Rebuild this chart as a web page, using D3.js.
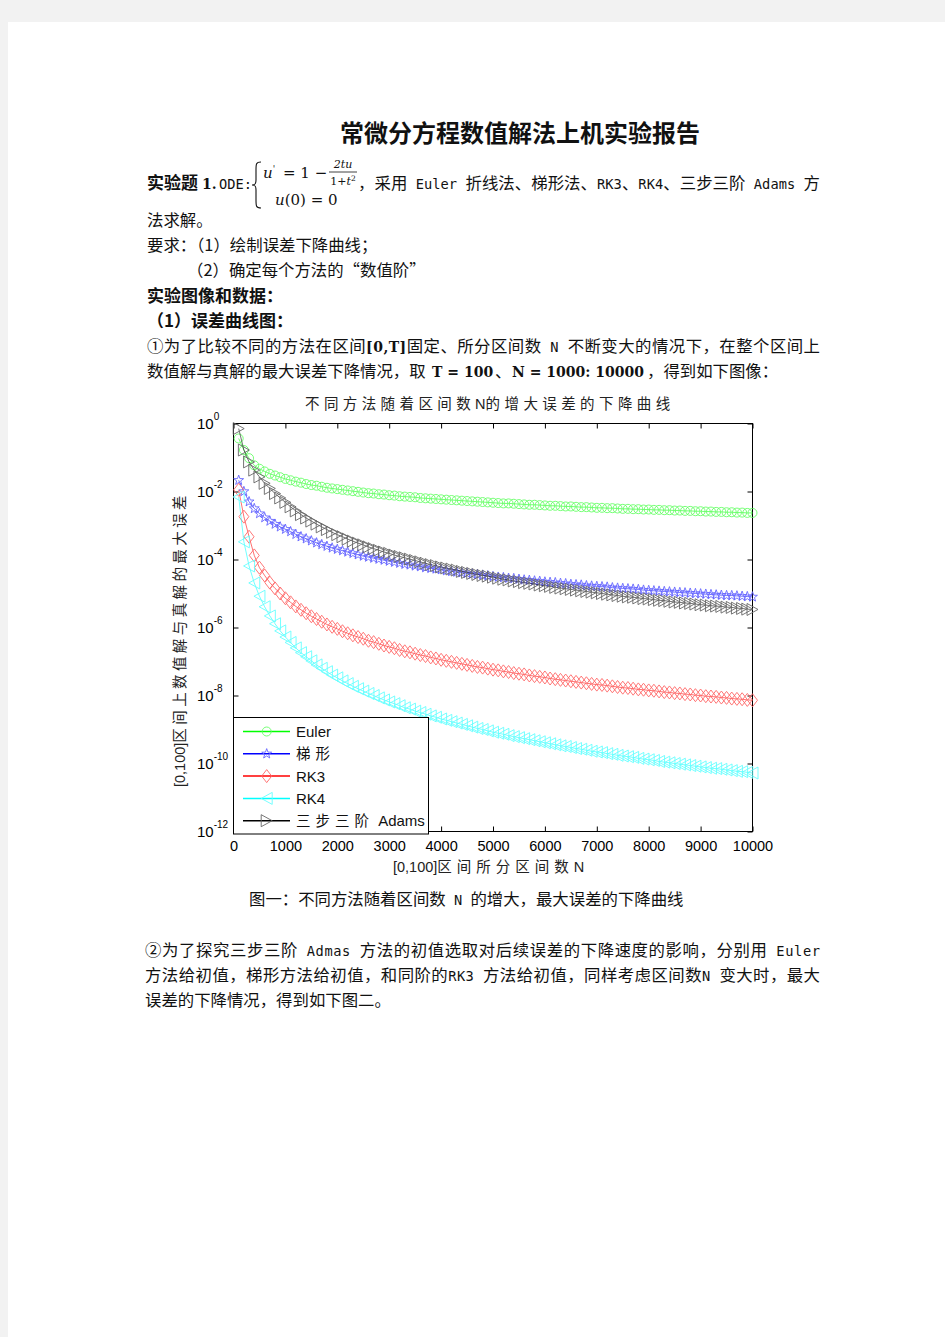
<!DOCTYPE html>
<html>
<head>
<meta charset="utf-8">
<script src="https://cdn.jsdelivr.net/npm/d3@7"></script>
<style>
  html, body { margin: 0; padding: 0; background: #f2f2f2; }
  svg { display: block; }
  text { white-space: pre; }
</style>
</head>
<body>
<svg id="page" width="945" height="1337"></svg>
<script>
// ---- data (log10 of the max error on [0,100]) ----
const N_VALUES = [100,200,300,400,500,600,700,800,900,1000,
  1100,1200,1300,1400,1500,1600,1700,1800,1900,2000,
  2100,2200,2300,2400,2500,2600,2700,2800,2900,3000,
  3100,3200,3300,3400,3500,3600,3700,3800,3900,4000,
  4100,4200,4300,4400,4500,4600,4700,4800,4900,5000,
  5100,5200,5300,5400,5500,5600,5700,5800,5900,6000,
  6100,6200,6300,6400,6500,6600,6700,6800,6900,7000,
  7100,7200,7300,7400,7500,7600,7700,7800,7900,8000,
  8100,8200,8300,8400,8500,8600,8700,8800,8900,9000,
  9100,9200,9300,9400,9500,9600,9700,9800,9900,10000];

const EULER_LOG = [-0.44,-0.78,-1.02,-1.23,-1.33,-1.41,-1.48,-1.53,-1.58,-1.63,
  -1.67,-1.71,-1.74,-1.78,-1.81,-1.83,-1.86,-1.89,-1.91,-1.93,
  -1.95,-1.97,-1.99,-2.01,-2.03,-2.05,-2.06,-2.08,-2.09,-2.11,
  -2.12,-2.14,-2.15,-2.16,-2.17,-2.19,-2.20,-2.21,-2.22,-2.23,
  -2.24,-2.25,-2.26,-2.27,-2.28,-2.29,-2.30,-2.31,-2.32,-2.33,
  -2.34,-2.35,-2.35,-2.36,-2.37,-2.38,-2.39,-2.39,-2.40,-2.41,
  -2.42,-2.42,-2.43,-2.44,-2.44,-2.45,-2.46,-2.46,-2.47,-2.48,
  -2.48,-2.49,-2.49,-2.50,-2.51,-2.51,-2.52,-2.52,-2.53,-2.53,
  -2.54,-2.54,-2.55,-2.55,-2.56,-2.56,-2.57,-2.57,-2.58,-2.58,
  -2.59,-2.59,-2.60,-2.60,-2.61,-2.61,-2.62,-2.62,-2.63,-2.63];

const TRAP_LOG = [-1.67,-2.00,-2.30,-2.50,-2.65,-2.77,-2.87,-2.96,-3.04,-3.11,
  -3.18,-3.26,-3.33,-3.39,-3.45,-3.51,-3.56,-3.61,-3.66,-3.70,
  -3.74,-3.78,-3.82,-3.86,-3.90,-3.93,-3.96,-3.99,-4.02,-4.05,
  -4.08,-4.11,-4.14,-4.16,-4.19,-4.21,-4.24,-4.26,-4.28,-4.30,
  -4.33,-4.35,-4.37,-4.39,-4.41,-4.43,-4.44,-4.46,-4.48,-4.50,
  -4.52,-4.53,-4.55,-4.56,-4.58,-4.60,-4.61,-4.63,-4.64,-4.66,
  -4.67,-4.68,-4.70,-4.71,-4.73,-4.74,-4.75,-4.77,-4.78,-4.79,
  -4.80,-4.81,-4.83,-4.84,-4.85,-4.86,-4.87,-4.88,-4.90,-4.91,
  -4.92,-4.93,-4.94,-4.95,-4.96,-4.97,-4.98,-4.99,-5.00,-5.01,
  -5.02,-5.03,-5.04,-5.05,-5.06,-5.06,-5.07,-5.08,-5.09,-5.10];

const RK3_LOG = [-1.95,-2.74,-3.33,-3.88,-4.24,-4.47,-4.68,-4.85,-5.00,-5.14,
  -5.26,-5.38,-5.48,-5.58,-5.67,-5.75,-5.83,-5.91,-5.98,-6.04,
  -6.11,-6.17,-6.23,-6.28,-6.33,-6.39,-6.43,-6.48,-6.53,-6.57,
  -6.61,-6.66,-6.70,-6.73,-6.77,-6.81,-6.84,-6.88,-6.91,-6.95,
  -6.98,-7.01,-7.04,-7.07,-7.10,-7.13,-7.16,-7.18,-7.21,-7.24,
  -7.26,-7.29,-7.31,-7.34,-7.36,-7.38,-7.41,-7.43,-7.45,-7.47,
  -7.50,-7.52,-7.54,-7.56,-7.58,-7.60,-7.62,-7.64,-7.66,-7.68,
  -7.69,-7.71,-7.73,-7.75,-7.77,-7.78,-7.80,-7.82,-7.83,-7.85,
  -7.86,-7.88,-7.90,-7.91,-7.93,-7.94,-7.96,-7.97,-7.99,-8.00,
  -8.02,-8.03,-8.04,-8.06,-8.07,-8.09,-8.10,-8.11,-8.13,-8.14];

const RK4_LOG = [-2.16,-3.48,-4.19,-4.69,-5.08,-5.39,-5.66,-5.89,-6.10,-6.28,
  -6.44,-6.60,-6.74,-6.86,-6.98,-7.10,-7.20,-7.30,-7.40,-7.48,
  -7.57,-7.65,-7.73,-7.80,-7.87,-7.94,-8.00,-8.07,-8.13,-8.19,
  -8.24,-8.30,-8.36,-8.40,-8.46,-8.50,-8.55,-8.60,-8.64,-8.69,
  -8.73,-8.77,-8.81,-8.85,-8.89,-8.93,-8.97,-9.00,-9.04,-9.08,
  -9.11,-9.14,-9.18,-9.21,-9.24,-9.27,-9.30,-9.33,-9.36,-9.39,
  -9.42,-9.45,-9.48,-9.50,-9.53,-9.56,-9.58,-9.61,-9.64,-9.66,
  -9.68,-9.71,-9.73,-9.76,-9.78,-9.80,-9.82,-9.85,-9.87,-9.89,
  -9.91,-9.94,-9.96,-9.98,-10.00,-10.02,-10.04,-10.06,-10.08,-10.10,
  -10.12,-10.14,-10.15,-10.17,-10.19,-10.21,-10.23,-10.24,-10.26,-10.28];

const ADAMS_LOG = [-0.15,-0.78,-1.13,-1.37,-1.57,-1.76,-1.91,-2.06,-2.19,-2.32,
  -2.45,-2.57,-2.68,-2.78,-2.87,-2.96,-3.04,-3.12,-3.20,-3.27,
  -3.33,-3.40,-3.46,-3.52,-3.57,-3.63,-3.68,-3.73,-3.78,-3.82,
  -3.87,-3.91,-3.95,-3.99,-4.03,-4.07,-4.11,-4.15,-4.18,-4.22,
  -4.25,-4.28,-4.31,-4.35,-4.38,-4.41,-4.44,-4.47,-4.49,-4.52,
  -4.55,-4.58,-4.60,-4.63,-4.65,-4.68,-4.70,-4.72,-4.75,-4.77,
  -4.79,-4.82,-4.84,-4.86,-4.88,-4.90,-4.92,-4.94,-4.96,-4.98,
  -5.00,-5.02,-5.04,-5.06,-5.08,-5.10,-5.11,-5.13,-5.15,-5.16,
  -5.18,-5.20,-5.21,-5.23,-5.25,-5.26,-5.28,-5.29,-5.31,-5.33,
  -5.34,-5.36,-5.37,-5.38,-5.40,-5.41,-5.43,-5.44,-5.46,-5.47];

const SERIES_NAMES = ['Euler', '梯形', 'RK3', 'RK4', '三步三阶 Adams'];
const X_TICKS = [0, 1000, 2000, 3000, 4000, 5000, 6000, 7000, 8000, 9000, 10000];
const Y_EXPONENTS = [0, -2, -4, -6, -8, -10, -12];

// styles (not data)
const COLORS = ['#00ff00', '#0000ff', '#ff0000', '#00ffff', '#000000'];
const MARKERS = ['circle', 'star', 'diamond', 'triLeft', 'triRight'];
const FONT = {
  cjk: "'Noto Sans CJK SC', sans-serif",
  mono: "'DejaVu Sans Mono', 'Liberation Mono', monospace",
  math: "'DejaVu Serif', 'Liberation Serif', serif",
  arial: "'Liberation Sans', Arial, sans-serif"
};
const SIZE = { cjk: 16.4, mono: 13.7, math: 14 };

const page = d3.select('#page');
page.append('rect').attr('x', 8).attr('y', 22).attr('width', 937).attr('height', 1315).attr('fill', '#fff');

// one line of body text, made of pieces in different fonts
function textLine(x, y, parts, len) {
  const t = page.append('text').attr('x', x).attr('y', y).attr('fill', '#111');
  if (len) t.attr('textLength', len).attr('lengthAdjust', 'spacing');
  parts.forEach(p => {
    const f = p.f || 'cjk';
    const s = t.append('tspan')
      .attr('font-family', FONT[f])
      .attr('font-size', p.s || SIZE[f])
      .text(p.t);
    if (p.b) s.attr('font-weight', 'bold');
    if (p.i) s.attr('font-style', 'italic');
    if (p.x != null) s.attr('x', p.x);
    if (p.dy != null) s.attr('dy', p.dy);
  });
  return t;
}

// ---- document text ----
textLine(520, 142, [{ t: '常微分方程数值解法上机实验报告', b: true, s: 24 }]).attr('text-anchor', 'middle');

textLine(147, 188.5, [
  { t: '实验题', b: true, s: 17 },
  { t: '1.', f: 'math', b: true, x: 202 },
  { t: 'ODE:', f: 'mono', x: 219 }
]);
// brace of the ODE system
page.append('path')
  .attr('d', 'M261,162 C256,162 256,164 256,170 L256,180 C256,184 255,185 252,185 C255,185 256,186 256,190 L256,200 C256,206 256,208 261,208')
  .attr('fill', 'none').attr('stroke', '#111').attr('stroke-width', 1.1);
textLine(263, 178, [
  { t: 'u', f: 'math', i: true, s: 15 },
  { t: '\'', f: 'math', s: 9, dy: -6 }
]);
textLine(283, 178, [{ t: '= 1 −', f: 'math', s: 15 }]);
textLine(343, 167.5, [{ t: '2tu', f: 'math', i: true, s: 11 }]).attr('text-anchor', 'middle');
page.append('line').attr('x1', 329).attr('x2', 357).attr('y1', 172).attr('y2', 172)
  .attr('stroke', '#111').attr('stroke-width', 0.8);
textLine(343, 185, [
  { t: '1+', f: 'math', s: 11 },
  { t: 't', f: 'math', i: true, s: 11 },
  { t: '2', f: 'math', s: 7.5, dy: -4 }
]).attr('text-anchor', 'middle');
textLine(275, 205, [
  { t: 'u', f: 'math', i: true, s: 15 },
  { t: '(0) = 0', f: 'math', s: 15 }
]);
textLine(358, 188.5, [
  { t: '，采用' },
  { t: ' Euler ', f: 'mono' },
  { t: '折线法、梯形法、' },
  { t: 'RK3', f: 'mono' },
  { t: '、' },
  { t: 'RK4', f: 'mono' },
  { t: '、三步三阶' },
  { t: ' Adams ', f: 'mono' },
  { t: '方' }
], 462);

textLine(147, 225.5, [{ t: '法求解。' }]);
textLine(147, 250.5, [{ t: '要求：（1）绘制误差下降曲线；' }]);
textLine(187, 275.5, [{ t: '（2）确定每个方法的“数值阶”' }]);
textLine(147, 301.5, [{ t: '实验图像和数据：', b: true, s: 17 }]);
textLine(147, 326.5, [{ t: '（1）误差曲线图：', b: true, s: 17 }]);
textLine(147, 351.5, [
  { t: '①为了比较不同的方法在区间' },
  { t: '[0,T]', f: 'math', b: true },
  { t: '固定、所分区间数' },
  { t: ' N ', f: 'mono' },
  { t: '不断变大的情况下，在整个区间上' }
], 673);
textLine(147, 376.5, [
  { t: '数值解与真解的最大误差下降情况，取' },
  { t: 'T = 100', f: 'math', b: true, x: 432 },
  { t: '、', x: 495 },
  { t: 'N = 1000: 10000', f: 'math', b: true, x: 512 },
  { t: '，得到如下图像：', x: 647 }
]);

textLine(249, 904.5, [
  { t: '图一：不同方法随着区间数' },
  { t: ' N ', f: 'mono' },
  { t: '的增大，最大误差的下降曲线' }
]);

textLine(145, 955.5, [
  { t: '②为了探究三步三阶' },
  { t: ' Admas ', f: 'mono' },
  { t: '方法的初值选取对后续误差的下降速度的影响，分别用' },
  { t: ' Euler', f: 'mono' }
], 675);
textLine(145, 980.5, [
  { t: '方法给初值，梯形方法给初值，和同阶的' },
  { t: 'RK3 ', f: 'mono' },
  { t: '方法给初值，同样考虑区间数' },
  { t: 'N ', f: 'mono' },
  { t: '变大时，最大' }
], 675);
textLine(145, 1005.5, [{ t: '误差的下降情况，得到如下图二。' }]);

// ---- the chart ----
const plotL = 233.5, plotR = 752.5, plotT = 423.5, plotB = 831.5;
const x = d3.scaleLinear().domain([0, 10000]).range([plotL, plotR]);
const y = d3.scaleLog().domain([1e-12, 1]).range([plotB, plotT]);

const chart = page.append('g').attr('id', 'chart');

chart.append('rect').attr('x', plotL).attr('y', plotT)
  .attr('width', plotR - plotL).attr('height', plotB - plotT)
  .attr('fill', '#fff').attr('stroke', '#000').attr('stroke-width', 1);

function styleAxis(g) {
  g.select('.domain').remove();
  g.selectAll('.tick line').attr('stroke', '#000');
  g.selectAll('text').attr('font-family', FONT.arial).attr('font-size', 14.5).attr('fill', '#000');
}
chart.append('g').attr('transform', `translate(0,${plotB})`)
  .call(d3.axisBottom(x).tickValues(X_TICKS).tickFormat(d3.format('d')).tickSizeInner(-5).tickSizeOuter(0).tickPadding(9))
  .call(styleAxis);
chart.append('g').attr('transform', `translate(0,${plotT})`)
  .call(d3.axisTop(x).tickValues(X_TICKS).tickFormat('').tickSizeInner(-5).tickSizeOuter(0))
  .call(styleAxis);
const yTickVals = Y_EXPONENTS.map(e => Math.pow(10, e));
chart.append('g').attr('transform', `translate(${plotL},0)`)
  .call(d3.axisLeft(y).tickValues(yTickVals).tickFormat('').tickSizeInner(-5).tickSizeOuter(0))
  .call(styleAxis);
chart.append('g').attr('transform', `translate(${plotR},0)`)
  .call(d3.axisRight(y).tickValues(yTickVals).tickFormat('').tickSizeInner(-5).tickSizeOuter(0))
  .call(styleAxis);

// y tick labels as 10 with a raised exponent
Y_EXPONENTS.forEach(e => {
  const t = chart.append('text').attr('x', 197).attr('y', y(Math.pow(10, e)) + 5)
    .attr('font-family', FONT.arial).attr('fill', '#000');
  t.append('tspan').attr('font-size', 15).text('10');
  t.append('tspan').attr('font-size', 10).attr('dy', -9).text(String(e));
});

// title and axis labels (MATLAB spaces out the CJK glyphs)
const title = chart.append('text').attr('x', 305).attr('y', 409)
  .attr('font-size', 14.5).attr('fill', '#222');
title.append('tspan').attr('font-family', FONT.cjk).attr('letter-spacing', 4.4).text('不同方法随着区间数');
title.append('tspan').attr('font-family', FONT.arial).text('N');
title.append('tspan').attr('font-family', FONT.cjk).attr('letter-spacing', 4.4).text('的增大误差的下降曲线');

const xl = chart.append('text').attr('x', 393).attr('y', 872)
  .attr('font-size', 14.5).attr('fill', '#222');
xl.append('tspan').attr('font-family', FONT.arial).text('[0,100]');
xl.append('tspan').attr('font-family', FONT.cjk).attr('letter-spacing', 5).text('区间所分区间数');
xl.append('tspan').attr('font-family', FONT.arial).text('N');

const yl = chart.append('text').attr('transform', 'translate(185,787) rotate(-90)')
  .attr('font-size', 14.5).attr('fill', '#222');
yl.append('tspan').attr('font-family', FONT.arial).text('[0,100]');
yl.append('tspan').attr('font-family', FONT.cjk).attr('letter-spacing', 3.4).text('区间上数值解与真解的最大误差');

// marker shapes, centred on the point
function markerPath(kind) {
  if (kind === 'circle') return 'M4.5,0A4.5,4.5 0 1,1 -4.5,0A4.5,4.5 0 1,1 4.5,0Z';
  if (kind === 'diamond') return 'M0,-6.5L5,0L0,6.5L-5,0Z';
  if (kind === 'triLeft') return 'M-5.5,0L5.5,-6L5.5,6Z';
  if (kind === 'triRight') return 'M5.5,0L-5.5,-6L-5.5,6Z';
  // five pointed star
  let pts = [];
  for (let i = 0; i < 10; i++) {
    const r = i % 2 ? 2.1 : 5.2;
    const a = -Math.PI / 2 + i * Math.PI / 5;
    pts.push([r * Math.cos(a), r * Math.sin(a)]);
  }
  return 'M' + pts.map(p => p[0].toFixed(2) + ',' + p[1].toFixed(2)).join('L') + 'Z';
}
const light = c => d3.interpolateRgb(c, '#ffffff')(0.4);

const allSeries = [EULER_LOG, TRAP_LOG, RK3_LOG, RK4_LOG, ADAMS_LOG];
const lineGen = d3.line().x(d => x(d[0])).y(d => y(Math.pow(10, d[1])));

allSeries.forEach((vals, i) => {
  const pts = N_VALUES.map((n, j) => [n, vals[j]]);
  const g = chart.append('g').attr('class', 'series');
  g.append('path').datum(pts).attr('d', lineGen)
    .attr('fill', 'none').attr('stroke', COLORS[i]).attr('stroke-width', 0.7).attr('stroke-opacity', 0.8);
  g.selectAll('path.mk').data(pts).enter().append('path')
    .attr('class', 'mk')
    .attr('d', markerPath(MARKERS[i]))
    .attr('transform', d => `translate(${x(d[0])},${y(Math.pow(10, d[1]))})`)
    .attr('fill', 'none').attr('stroke', light(COLORS[i])).attr('stroke-width', 0.9);
});

// legend box in the lower left corner
const lg = chart.append('g').attr('id', 'legend');
lg.append('rect').attr('x', 233.5).attr('y', 717.5).attr('width', 195).attr('height', 116.5)
  .attr('fill', '#fff').attr('stroke', '#000').attr('stroke-width', 1);
SERIES_NAMES.forEach((name, i) => {
  const cy = 731.5 + i * 22.3;
  lg.append('line').attr('x1', 243).attr('x2', 290).attr('y1', cy).attr('y2', cy)
    .attr('stroke', COLORS[i]).attr('stroke-width', 1.5);
  lg.append('path').attr('d', markerPath(MARKERS[i]))
    .attr('transform', `translate(266.7,${cy})`)
    .attr('fill', 'none').attr('stroke', light(COLORS[i])).attr('stroke-width', 0.9);
  const t = lg.append('text').attr('x', 296).attr('y', cy + 5.5).attr('font-size', 15).attr('fill', '#111');
  name.split(' ').forEach((part, k) => {
    const cjk = /[\u4e00-\u9fff]/.test(part);
    t.append('tspan')
      .attr('font-family', cjk ? FONT.cjk : FONT.arial)
      .attr('font-size', cjk ? 14.5 : 15)
      .attr('letter-spacing', cjk ? 5 : null)
      .text((k > 0 ? ' ' : '') + part);
  });
});
</script>
</body>
</html>
